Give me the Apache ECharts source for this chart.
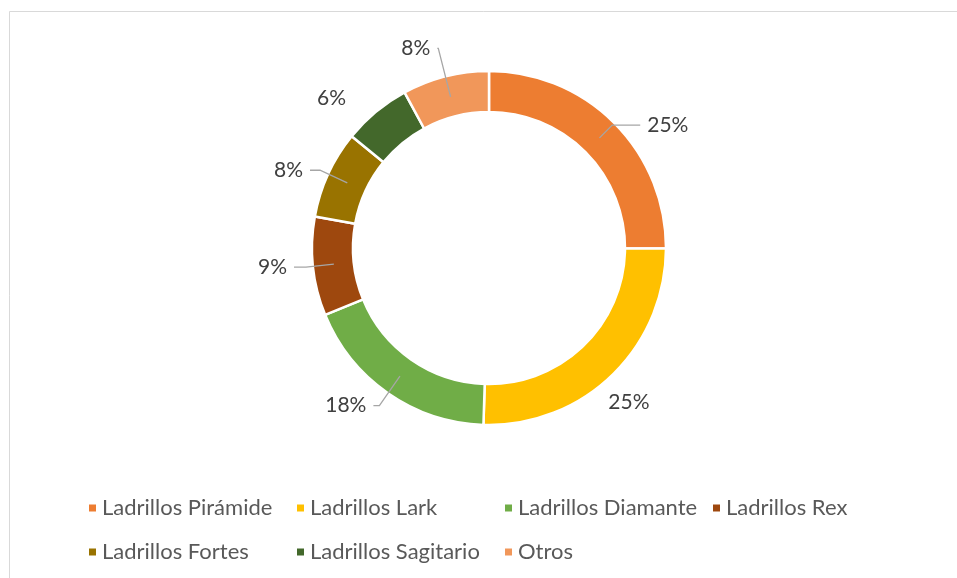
<!DOCTYPE html>
<html>
<head>
<meta charset="utf-8">
<script src="https://cdn.jsdelivr.net/npm/echarts@6/dist/echarts.min.js"></script>
<style>
html,body{margin:0;padding:0;background:#fff;}
#chart{width:957px;height:578px;}
</style>
</head>
<body>
<div id="chart"></div>
<script>
// Data
const categories = ['Ladrillos Pirámide','Ladrillos Lark','Ladrillos Diamante','Ladrillos Rex','Ladrillos Fortes','Ladrillos Sagitario','Otros'];
const shares = [25.0, 25.4, 18.3, 9.0, 8.0, 6.2, 7.9];
const colors = ['#ED7D31','#FFC000','#70AD47','#9E480E','#997300','#43682B','#F1975A'];

// Label/leader styling (kept apart from the data)
const leaderShown = [true, false, true, true, true, false, true];
const leaderLen1 = [18, 59, 36, 28, 30, 38, 50];
const leaderLen2 = [28, 0, 6, 12, 10, 12, 1];
const labelShiftX = [0, -37, 0, 0, 0, 0, 0];

const chart = echarts.init(document.getElementById('chart'), null, {renderer:'canvas'});
const FONT = 'Lato, "Open Sans", sans-serif';

const ringData = categories.map((n,i)=>({name:n, value:shares[i], itemStyle:{color:colors[i]}}));
const labelData = categories.map((n,i)=>({
  name:n, value:shares[i],
  labelLine:{show:leaderShown[i], length:leaderLen1[i], length2:leaderLen2[i]}
}));

chart.setOption({
  animation:false,
  backgroundColor:'#fff',
  graphic:[{type:'rect', silent:true, shape:{x:9.5,y:11.5,width:1000,height:700},
    style:{fill:null, stroke:'#d9d9d9', lineWidth:1}}],
  legend:{
    data:categories,
    left:82, top:486, width:880,
    icon:'rect', itemWidth:9, itemHeight:9, itemGap:10,
    textStyle:{fontFamily:FONT, fontSize:22, color:'#595959', width:183, lineHeight:34}
  },
  series:[
    {
      type:'pie', name:'ring', z:2,
      center:[489,248], radius:[136,177],
      startAngle:90, clockwise:true,
      silent:true,
      label:{show:false}, labelLine:{show:false},
      itemStyle:{borderColor:'#fff', borderWidth:2.5},
      emphasis:{disabled:true},
      data:ringData
    },
    {
      type:'pie', name:'labels', z:5,
      center:[489,248], radius:[0,156],
      startAngle:90, clockwise:true,
      silent:true,
      avoidLabelOverlap:false,
      itemStyle:{color:'rgba(0,0,0,0)'},
      emphasis:{disabled:true},
      label:{show:true, position:'outside', fontFamily:FONT, fontSize:21, color:'#404040',
        distanceToLabelLine:7,
        formatter:p=>Math.round(p.percent)+'%'},
      labelLine:{show:true, length:28, length2:12, smooth:false,
        lineStyle:{color:'#a6a6a6', width:1.3}},
      labelLayout:p=>({dx:labelShiftX[p.dataIndex]||0}),
      data:labelData
    }
  ]
});
</script>
</body>
</html>
